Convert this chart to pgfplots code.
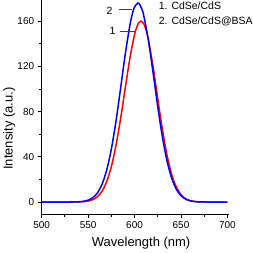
\documentclass[border=0pt]{standalone}
\usepackage{pgfplots}
\pgfplotsset{compat=1.18}
\usepackage{fontspec}
\setmainfont{Liberation Sans}
\begin{document}
\begin{tikzpicture}
\begin{axis}[
  scale only axis, width=188pt, height=214pt,
  xmin=500, xmax=702, ymin=-10.6, ymax=178.3,
  clip=false,
  axis x line*=bottom, axis y line*=left,
  axis line style={line width=0.8pt, -},
  xtick={500,550,...,700}, minor xtick={525,575,625,675},
  ytick={0,40,...,160}, minor ytick={20,60,100,140},
  tick align=outside, major tick length=4pt, minor tick length=2.5pt,
  tick style={line width=0.8pt, black},
  ticklabel style={font=\fontsize{10}{11}\selectfont},
  /pgf/number format/assume math mode=true,
  xlabel={Wavelength (nm)}, ylabel={Intensity (a.u.)},
  label style={font=\fontsize{13}{15}\selectfont},
  xlabel style={at={(axis description cs:0.53,0)}, anchor=base, yshift=-33pt},
  ylabel style={at={(axis description cs:-0.154,0.40)}, anchor=base},
]
\addplot[red, line width=1.5pt, smooth] coordinates {
(500,0) (520,0) (530,0.01) (540,0.12) (545,0.35) (550,0.9) (555,2.14) (560,4.71)
(565,9.58) (570,18.0) (575,31.2) (580,50.0) (585,73.9) (590,100.9) (595,127.2)
(600,148.0) (603,156.0) (605,159.0) (607,160) (610,157.5) (612,153.2) (615,143.2)
(620,119.4) (625,91.3) (630,64.1) (635,41.2) (640,24.3) (645,13.2) (650,6.53)
(655,2.97) (660,1.24) (665,0.48) (670,0.17) (680,0.01) (690,0) (700,0)};
\addplot[blue, line width=1.5pt, smooth] coordinates {
(500,0) (520,0) (530,0.03) (540,0.24) (545,0.66) (550,1.65) (555,3.78) (560,8.02)
(565,15.65) (570,28.2) (575,46.7) (580,71.4) (585,100.7) (590,130.7) (595,156.4)
(598,167.5) (600,172.5) (603.5,176) (605,175.4) (608,170.4) (610,164.5) (615,142.5)
(620,114.0) (625,84.2) (630,57.4) (635,36.1) (640,21.0) (645,11.26) (650,5.58)
(655,2.55) (660,1.08) (665,0.42) (670,0.15) (680,0.01) (690,0) (700,0)};
\node[font=\fontsize{10.5}{12}\selectfont, inner sep=0pt] at (axis cs:573.2,169.5) {2};
\draw[line width=0.8pt, black!75] (axis cs:582.8,170.3) -- (axis cs:596.8,170.3);
\node[font=\fontsize{10.5}{12}\selectfont, inner sep=0pt] at (axis cs:576.4,151) {1};
\draw[line width=0.8pt, black!75] (axis cs:583.9,151.2) -- (axis cs:601,151.2);
\node[font=\fontsize{10.5}{12}\selectfont, inner sep=0pt, anchor=base west] at (axis cs:626,170.1) {1. CdSe/CdS};
\node[font=\fontsize{10.5}{12}\selectfont, inner sep=0pt, anchor=base west] at (axis cs:626,157.4) {2. CdSe/CdS@BSA};
\end{axis}
\end{tikzpicture}
\end{document}
